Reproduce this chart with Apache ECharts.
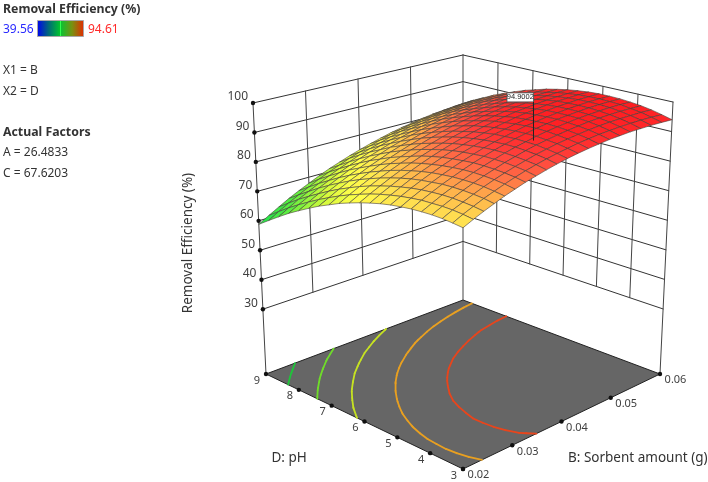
<!DOCTYPE html>
<html>
<head>
<meta charset="utf-8">
<style>html,body{margin:0;padding:0;background:#fff}#c{width:708px;height:482px}</style>
<script src="https://cdn.jsdelivr.net/npm/echarts@6/dist/echarts.min.js"></script>
</head>
<body>
<div id="c"></div>
<script>
// ---- values ----
const sorbentTicks = [0.02, 0.03, 0.04, 0.05, 0.06];
const pHTicks = [3, 4, 5, 6, 7, 8, 9];
const zTicks = [30, 40, 50, 60, 70, 80, 90, 100];
const contourLevels = [64.5, 70.8, 77.1, 83.8, 90];
const legendMin = 39.56, legendMax = 94.61;
const factorLines = ['X1 = B', 'X2 = D'];
const actualFactors = ['A = 26.4833', 'C = 67.6203'];
const designPoint = {b: 0.054, ph: 6.06, top: 94.9002, base: 81};
// Rows run pH 3 -> 9 in 21 steps, columns run sorbent 0.02 -> 0.06 in 21 steps.
const removal = [
[81.0,82.5,83.9,85.2,86.5,87.6,88.7,89.6,90.5,91.3,92.0,92.6,93.1,93.5,93.9,94.1,94.3,94.3,94.3,94.2,94.0],
[81.4,83.0,84.4,85.8,87.0,88.2,89.3,90.3,91.2,92.0,92.7,93.3,93.9,94.3,94.7,94.9,95.1,95.2,95.2,95.1,94.9],
[81.7,83.3,84.7,86.1,87.4,88.6,89.7,90.7,91.6,92.5,93.2,93.9,94.4,94.9,95.3,95.6,95.8,95.9,95.9,95.9,95.7],
[81.8,83.4,84.9,86.3,87.6,88.8,89.9,91.0,91.9,92.8,93.6,94.2,94.8,95.3,95.7,96.1,96.3,96.4,96.5,96.4,96.3],
[81.7,83.3,84.9,86.3,87.6,88.9,90.0,91.1,92.1,93.0,93.7,94.5,95.1,95.6,96.0,96.4,96.6,96.8,96.9,96.9,96.7],
[81.5,83.2,84.7,86.2,87.5,88.8,90.0,91.1,92.1,93.0,93.8,94.5,95.2,95.7,96.2,96.5,96.8,97.0,97.1,97.1,97.0],
[81.1,82.8,84.4,85.8,87.2,88.5,89.7,90.8,91.9,92.8,93.6,94.4,95.1,95.6,96.1,96.5,96.8,97.0,97.2,97.2,97.1],
[80.6,82.3,83.9,85.4,86.8,88.1,89.3,90.5,91.5,92.5,93.4,94.1,94.8,95.4,95.9,96.4,96.7,96.9,97.1,97.1,97.1],
[79.9,81.6,83.2,84.8,86.2,87.5,88.8,90.0,91.0,92.0,92.9,93.7,94.4,95.1,95.6,96.0,96.4,96.7,96.8,96.9,96.9],
[79.0,80.8,82.4,84.0,85.4,86.8,88.1,89.3,90.4,91.4,92.3,93.1,93.9,94.5,95.1,95.5,95.9,96.2,96.4,96.5,96.5],
[78.0,79.8,81.4,83.0,84.5,85.9,87.2,88.4,89.5,90.6,91.5,92.4,93.1,93.8,94.4,94.9,95.3,95.6,95.8,96.0,96.0],
[76.8,78.6,80.3,81.9,83.4,84.8,86.1,87.4,88.5,89.6,90.6,91.4,92.2,92.9,93.5,94.1,94.5,94.8,95.1,95.2,95.3],
[75.5,77.3,79.0,80.6,82.1,83.6,84.9,86.2,87.4,88.5,89.5,90.4,91.2,91.9,92.5,93.1,93.5,93.9,94.2,94.4,94.5],
[73.9,75.8,77.5,79.2,80.7,82.2,83.6,84.9,86.1,87.2,88.2,89.1,90.0,90.7,91.4,91.9,92.4,92.8,93.1,93.3,93.4],
[72.3,74.1,75.9,77.6,79.1,80.6,82.0,83.4,84.6,85.7,86.8,87.7,88.6,89.4,90.0,90.6,91.1,91.6,91.9,92.1,92.3],
[70.4,72.3,74.1,75.8,77.4,78.9,80.4,81.7,83.0,84.1,85.2,86.2,87.1,87.9,88.6,89.2,89.7,90.2,90.5,90.8,90.9],
[68.4,70.3,72.1,73.9,75.5,77.1,78.5,79.9,81.1,82.3,83.4,84.4,85.3,86.2,86.9,87.6,88.1,88.6,88.9,89.2,89.4],
[66.3,68.2,70.0,71.8,73.4,75.0,76.5,77.9,79.2,80.4,81.5,82.5,83.5,84.3,85.1,85.8,86.3,86.8,87.2,87.5,87.8],
[63.9,65.9,67.8,69.5,71.2,72.8,74.3,75.7,77.1,78.3,79.4,80.5,81.5,82.3,83.1,83.8,84.4,84.9,85.4,85.7,85.9],
[61.4,63.4,65.3,67.1,68.8,70.5,72.0,73.4,74.8,76.0,77.2,78.3,79.3,80.2,81.0,81.7,82.3,82.9,83.3,83.7,84.0],
[58.8,60.8,62.7,64.6,66.3,67.9,69.5,71.0,72.3,73.6,74.8,75.9,76.9,77.9,78.7,79.4,80.1,80.7,81.1,81.5,81.8]
];

// ---- scene layout (box corners on the page) ----
const FONT = '"Noto Sans", "Open Sans", sans-serif';
const Z_FLOOR = 8;
const floorBox = {f:[463,469], r:[660,374], b:[463,300], l:[266,374]};
const topBox   = {f:[463,165], r:[673,102], b:[463,55],  l:[253,103]};
const N = removal.length - 1;
const B0 = sorbentTicks[0], B1 = sorbentTicks[sorbentTicks.length-1];
const P0 = pHTicks[0], P1 = pHTicks[pHTicks.length-1];

function bilinear(q,u,v){
  return [0,1].map(k => q.f[k]*(1-u)*(1-v) + q.r[k]*u*(1-v) + q.b[k]*u*v + q.l[k]*(1-u)*v);
}
function project(b,ph,z){
  const u=(b-B0)/(B1-B0), v=(ph-P0)/(P1-P0), t=(z-Z_FLOOR)/(100-Z_FLOOR);
  const a=bilinear(floorBox,u,v), c=bilinear(topBox,u,v);
  return [a[0]+(c[0]-a[0])*t, a[1]+(c[1]-a[1])*t];
}
const bAt = i => B0+(B1-B0)*i/N;
const pAt = j => P0+(P1-P0)*j/N;

// surface colours
const colourStops = [
 [50,[0,205,100]],[58,[25,225,85]],[62,[50,230,70]],[66,[90,238,65]],[70,[150,245,60]],[74,[215,250,60]],
 [78,[255,255,75]],[82,[255,225,80]],[86,[255,175,75]],[89,[255,115,70]],[92,[255,65,60]],[95,[255,35,38]],[100,[255,20,25]]
];
function colourOf(z){
  for(let i=1;i<colourStops.length;i++){
    if(z<=colourStops[i][0]){
      const [a,ca]=colourStops[i-1],[b,cb]=colourStops[i],t=Math.max(0,(z-a)/(b-a));
      return 'rgb('+ca.map((c,k)=>Math.round(c+(cb[k]-c)*t)).join(',')+')';
    }
  }
  return 'rgb(255,20,25)';
}

// ---- primitives built from the arrays ----
const wallLines = [];
const wall = (b1,p1,z1,b2,p2,z2,w,c)=>wallLines.push({a:project(b1,p1,z1),b:project(b2,p2,z2),w,c});
zTicks.forEach(z=>{
  wall(B0,P1,z,B1,P1,z,1,'#333');
  wall(B1,P1,z,B1,P0,z,1,'#333');
});
sorbentTicks.forEach((b,i)=>{
  const corner=i===0||i===sorbentTicks.length-1;
  wall(b,P1,corner?Z_FLOOR:zTicks[0],b,P1,100,1,'#444');
});
pHTicks.forEach(p=>{
  if(p===P1) return;
  wall(B1,p,p===P0?Z_FLOOR:zTicks[0],B1,p,100,1,'#444');
});

const contourColours = ['#1fc43a','#6fdc2a','#c6e222','#e9a020','#e8451c'];
const contourSegs = [];
contourLevels.forEach((lv,c)=>{
  const cross=(i1,j1,i2,j2)=>{
    const z1=removal[j1][i1], z2=removal[j2][i2];
    if((z1<lv)===(z2<lv)) return null;
    const t=(lv-z1)/(z2-z1);
    return [i1+(i2-i1)*t, j1+(j2-j1)*t];
  };
  for(let j=0;j<N;j++)for(let i=0;i<N;i++){
    const pts=[cross(i,j,i+1,j),cross(i+1,j,i+1,j+1),cross(i,j+1,i+1,j+1),cross(i,j,i,j+1)].filter(Boolean);
    if(pts.length>=2) contourSegs.push({a:pts[0],b:pts[1],c:contourColours[c]});
  }
});

const cells=[];
for(let j=N-1;j>=0;j--)for(let i=N-1;i>=0;i--)cells.push([i,j]);
cells.sort((p,q)=>(q[0]+q[1])-(p[0]+p[1]));

const dots=[];
zTicks.forEach(z=>dots.push(project(B0,P1,z)));
pHTicks.forEach(p=>dots.push(project(B0,p,Z_FLOOR)));
sorbentTicks.forEach(b=>dots.push(project(b,P0,Z_FLOOR)));

const texts=[];
const tickColour='#404040';
zTicks.forEach(z=>{const p=project(B0,P1,z);texts.push({x:p[0]-5,y:p[1]-6,s:String(z),al:'right',size:12});});
pHTicks.forEach(h=>{const p=project(B0,h,Z_FLOOR);texts.push({x:p[0]-9,y:p[1]+6.5,s:String(h),al:'center',size:11});});
sorbentTicks.forEach(b=>{const p=project(b,P0,Z_FLOOR);texts.push({x:p[0]+15.5,y:p[1]+6.3,s:b.toFixed(2),al:'center',size:11});});

// ---- page ----
const chart=echarts.init(document.getElementById('c'),null,{renderer:'canvas'});
const coordLine=(api,s)=>{const a=api.coord(s.a),b=api.coord(s.b);
  return {type:'line',shape:{x1:a[0],y1:a[1],x2:b[0],y2:b[1]},style:{stroke:s.c,lineWidth:s.w,lineCap:'round'}};};
const idx=a=>a.map((_,i)=>[i,i]);
const base={type:'custom',coordinateSystem:'cartesian2d',silent:true,animation:false,clip:false,progressive:0};
const labelText=(s,x,y,o={})=>({type:'text',x,y,style:Object.assign({text:s,font:(o.weight||'normal')+' '+(o.size||12)+'px '+FONT,fill:o.fill||'#333',textAlign:o.al||'left',textVerticalAlign:'middle'},{})});

chart.setOption({
  animation:false,
  backgroundColor:'#fff',
  grid:{left:0,right:0,top:0,bottom:0},
  xAxis:{type:'value',min:0,max:708,show:false},
  yAxis:{type:'value',min:0,max:482,inverse:true,show:false},
  graphic:[
    labelText('Removal Efficiency (%)',3,9,{weight:'bold',size:12.3}),
    labelText(String(legendMin),3,30,{fill:'#2a2aff'}),
    {type:'rect',shape:{x:37.5,y:20.5,width:46,height:16},style:{
      fill:new echarts.graphic.LinearGradient(0,0,1,0,[
        {offset:0,color:'#0000f0'},{offset:.25,color:'#006a78'},{offset:.48,color:'#00c030'},{offset:.5,color:'#30ff50'},
        {offset:.52,color:'#10c030'},{offset:.75,color:'#7a9010'},{offset:1,color:'#e62800'}]),
      stroke:'#a8a8a8',lineWidth:1}},
    labelText(String(legendMax),88,30,{fill:'#ff2a2a'}),
    labelText(factorLines[0],3,71),
    labelText(factorLines[1],3,92),
    labelText('Actual Factors',3,132,{weight:'bold',size:12.3}),
    labelText(actualFactors[0],3,153),
    labelText(actualFactors[1],3,174),
    labelText('D: pH',271.5,458,{size:13.5}),
    labelText('B: Sorbent amount (g)',568,458,{size:13.5}),
    {type:'text',x:188,y:243,rotation:Math.PI/2,style:{text:'Removal Efficiency (%)',font:'13.5px '+FONT,fill:'#333',textAlign:'center',textVerticalAlign:'middle'}}
  ],
  series:[
    Object.assign({},base,{name:'floor',z:1,data:[[0,0]],renderItem:(p,api)=>({type:'polygon',
      shape:{points:[[B0,P0],[B1,P0],[B1,P1],[B0,P1]].map(c=>api.coord(project(c[0],c[1],Z_FLOOR)))},
      style:{fill:'#666666',stroke:'#222',lineWidth:1}})}),
    Object.assign({},base,{name:'walls',z:2,data:idx(wallLines),renderItem:(p,api)=>coordLine(api,wallLines[p.dataIndex])}),
    Object.assign({},base,{name:'contours',z:3,data:idx(contourSegs),renderItem:(p,api)=>{
      const s=contourSegs[p.dataIndex];
      return coordLine(api,{a:project(bAt(s.a[0]),pAt(s.a[1]),Z_FLOOR),b:project(bAt(s.b[0]),pAt(s.b[1]),Z_FLOOR),c:s.c,w:1.8});
    }}),
    Object.assign({},base,{name:'ticks',z:4,data:idx(dots),renderItem:(p,api)=>{
      const c=api.coord(dots[p.dataIndex]);
      return {type:'circle',shape:{cx:c[0],cy:c[1],r:2.2},style:{fill:'#111'}};
    }}),
    Object.assign({},base,{name:'tickLabels',z:5,data:idx(texts),renderItem:(p,api)=>{
      const t=texts[p.dataIndex],c=api.coord([t.x,t.y]);
      return {type:'text',x:c[0],y:c[1],style:{text:t.s,font:t.size+'px '+FONT,fill:tickColour,textAlign:t.al,textVerticalAlign:'middle'}};
    }}),
    Object.assign({},base,{name:'surface',z:6,data:idx(cells),renderItem:(p,api)=>{
      const [i,j]=cells[p.dataIndex];
      const c=[[i,j],[i+1,j],[i+1,j+1],[i,j+1]];
      const zs=c.map(k=>removal[k[1]][k[0]]);
      const avg=(zs[0]+zs[1]+zs[2]+zs[3])/4;
      return {type:'polygon',shape:{points:c.map((k,n)=>api.coord(project(bAt(k[0]),pAt(k[1]),zs[n])))},
        style:{fill:colourOf(avg),stroke:'#46403a',lineWidth:0.6,lineJoin:'round'}};
    }}),
    Object.assign({},base,{name:'designPoint',z:7,data:[[0,0]],renderItem:(p,api)=>{
      const a=api.coord(project(designPoint.b,designPoint.ph,designPoint.top));
      const b=api.coord(project(designPoint.b,designPoint.ph,designPoint.base));
      const lx=b[0];
      return {type:'group',children:[
        {type:'line',shape:{x1:lx,y1:a[1]-4,x2:lx,y2:b[1]},style:{stroke:'#222',lineWidth:1}},
        {type:'rect',shape:{x:lx-26.5,y:a[1]-8,width:26.5,height:9},style:{fill:'#fff',stroke:'#555',lineWidth:.8}},
        {type:'text',x:lx-13.2,y:a[1]-3.5,style:{text:String(designPoint.top),font:'7.5px "Liberation Sans", sans-serif',fill:'#222',textAlign:'center',textVerticalAlign:'middle'}}
      ]};
    }})
  ]
});
</script>
</body>
</html>
